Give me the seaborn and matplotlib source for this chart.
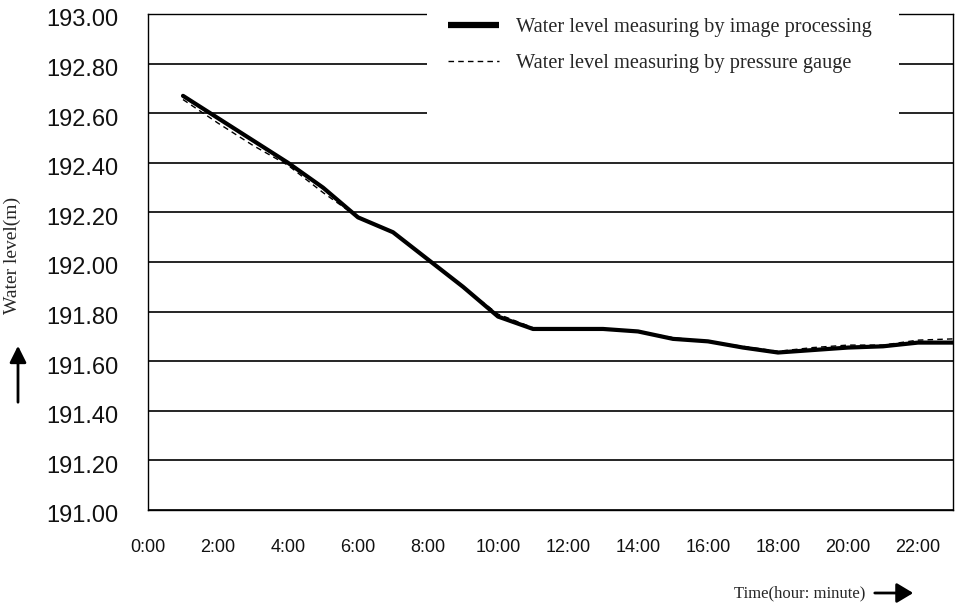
import numpy as np
import pandas as pd
import matplotlib
matplotlib.use("Agg")
import matplotlib.pyplot as plt
import matplotlib.transforms as mtransforms
import seaborn as sns
from matplotlib.patches import Rectangle, FancyArrowPatch

# ---- data ----
hours = [1, 2, 3, 4, 5, 6, 7, 8, 9, 10, 11, 12, 13, 14, 15, 16, 17, 18, 19, 20, 21, 22, 23]
image_level = [192.67, 192.58, 192.49, 192.40, 192.30, 192.18, 192.12, 192.01, 191.90, 191.78,
               191.73, 191.73, 191.73, 191.72, 191.69, 191.68, 191.655, 191.635, 191.645,
               191.655, 191.66, 191.675, 191.675]
gauge_level = [192.655, 192.56, 192.47, 192.39, 192.28, 192.18, 192.12, 192.01, 191.90, 191.79,
               191.735, 191.735, 191.73, 191.72, 191.695, 191.68, 191.66, 191.64, 191.655,
               191.665, 191.665, 191.685, 191.69]
x_ticks = [0, 2, 4, 6, 8, 10, 12, 14, 16, 18, 20, 22]
x_tick_labels = ["0:00", "2:00", "4:00", "6:00", "8:00", "10:00", "12:00", "14:00",
                 "16:00", "18:00", "20:00", "22:00"]
y_ticks = [191.0, 191.2, 191.4, 191.6, 191.8, 192.0, 192.2, 192.4, 192.6, 192.8, 193.0]
label_image = "Water level measuring by image processing"
label_gauge = "Water level measuring by pressure gauge"

sns.set_theme(style="white")
plt.rcParams['font.family'] = ['Liberation Sans', 'DejaVu Sans']

df_img = pd.DataFrame({"hour": hours, "level": image_level})
df_gau = pd.DataFrame({"hour": hours, "level": gauge_level})

fig = plt.figure(figsize=(9.57, 6.07), dpi=100)
ax = fig.add_axes([148/957, 1 - 510/607, 805/957, 496/607])

sns.lineplot(data=df_gau, x="hour", y="level", ax=ax, color="black", linewidth=1.0,
             linestyle=(0, (4, 3)), label=label_gauge, zorder=3)
sns.lineplot(data=df_img, x="hour", y="level", ax=ax, color="black", linewidth=3.0,
             label=label_image, zorder=4)

ax.set_xlim(0, 23)
ax.set_ylim(191.0, 193.0)
ax.set_xticks(x_ticks)
ax.set_xticklabels(x_tick_labels)
ax.set_yticks(y_ticks)
ax.set_yticklabels([f"{v:.2f}" for v in y_ticks])
ax.set_xlabel("")
ax.set_ylabel("")

ax.grid(False)
for v in y_ticks:
    ax.axhline(v, color="black", linewidth=1.2, zorder=1)

for s in ax.spines.values():
    s.set_visible(True)
    s.set_color("black")
    s.set_linewidth(1.0)

ax.tick_params(axis="x", direction="in", length=5, width=1, color="black",
               pad=21, labelsize=13, labelcolor="#111111")
ax.tick_params(axis="y", direction="in", length=5, width=1, color="black",
               pad=21.5, labelsize=17, labelcolor="#111111")
shift = mtransforms.ScaledTranslation(0, -4/100, fig.dpi_scale_trans)
for lab in ax.get_yticklabels():
    lab.set_transform(lab.get_transform() + shift)

# white area behind the legend (breaks gridlines and top spine)
ax.add_patch(Rectangle((0.3466, 0.78), 0.5863, 0.25, transform=ax.transAxes,
                       facecolor="white", edgecolor="none", zorder=4.5, clip_on=False))

handles, labels = ax.get_legend_handles_labels()
order = [labels.index(label_image), labels.index(label_gauge)]
leg = ax.legend([handles[i] for i in order], [labels[i] for i in order],
                loc="upper left", bbox_to_anchor=(0.3727, 0.992), frameon=False,
                borderpad=0, borderaxespad=0, handlelength=2.5, handletextpad=0.85,
                labelspacing=0.8,
                prop={"family": "Liberation Serif", "size": 14.7})
leg.set_zorder(6)
leg.get_lines()[0].set_linewidth(4.5)
leg.get_lines()[0].set_solid_capstyle("butt")

# axis titles
fig.text(12/957, 1 - 255/607, "Water level(m)", rotation=90, ha="center", va="center",
         family="Liberation Serif", fontsize=14)
fig.text(800/957, 1 - 593/607, "Time(hour: minute)", ha="center", va="center",
         family="Liberation Serif", fontsize=12)
fig.add_artist(FancyArrowPatch(
    (18/957, 1 - 405/607), (18/957, 1 - 343/607), transform=fig.transFigure,
    arrowstyle="-|>,head_length=10,head_width=5", color="black", linewidth=2))
fig.add_artist(FancyArrowPatch(
    (872/957, 1 - 593/607), (916/957, 1 - 593/607), transform=fig.transFigure,
    arrowstyle="-|>,head_length=10,head_width=6", color="black", linewidth=2))

fig.savefig("out.png", dpi=100, facecolor="white")
